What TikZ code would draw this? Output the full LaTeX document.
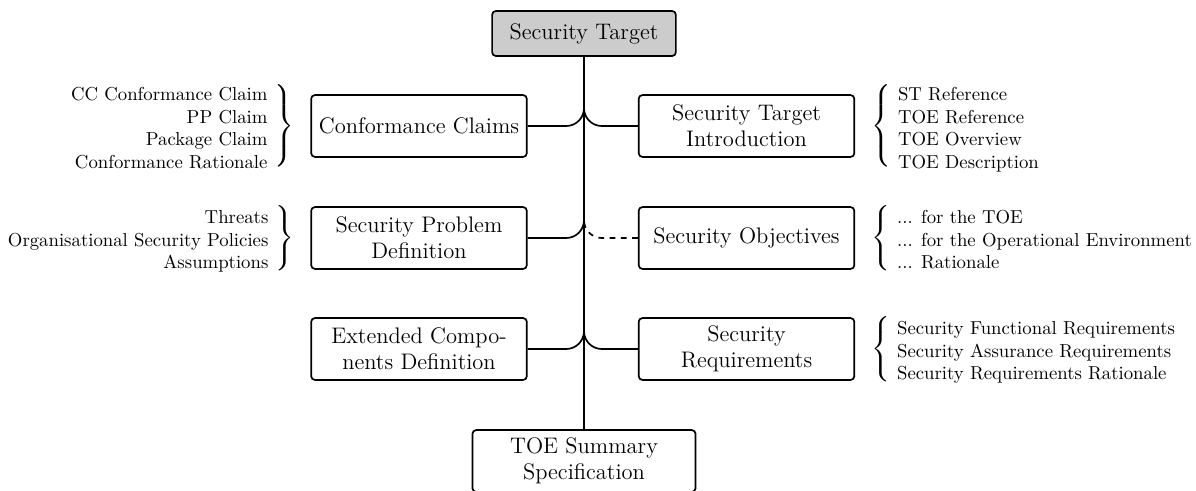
\documentclass[tikz,border=0pt]{standalone}
\usepackage{amsmath}
\usepackage{graphicx}
% A bold extensible brace (#3 = \{ or \}) scaled to #1 wide and #2 tall
\newcommand{\bigbrace}[3]{\resizebox*{#1}{#2}{\Large\nulldelimiterspace=0pt
  $\left#3\vrule height 22pt depth 22pt width 0pt\right.$}}
\begin{document}
\begin{tikzpicture}[
  x=0.5333pt, y=-0.5333pt,
  line width=0.9pt,
  part/.style={draw, rounded corners=2pt, align=center, font=\large,
    minimum width=115pt, minimum height=33pt, inner sep=3pt},
  top/.style={part, fill=gray!40, minimum width=98pt, minimum height=24pt},
  brc/.style={inner sep=0pt},
  lst/.style={inner sep=0pt},
  fork/.style={rounded corners=9.5pt},
]
\useasboundingbox (0,0) rectangle (1196,490);

% Document parts
\node[top]  (st)  at (584,33.5) {Security Target};
\node[part] (cc)  at (419,126)  {Conformance Claims};
\node[part] (sti) at (746.5,126) {Security Target\\Introduction};
\node[part] (spd) at (419,238)  {Security Problem\\Definition};
\node[part] (so)  at (746.5,238) {Security Objectives};
\node[part] (ecd) at (419,349)  {Extended Compo-\\nents Definition};
\node[part] (sr)  at (746.5,349) {Security\\Requirements};
\node[part, minimum width=119pt] (tss) at (584,461) {TOE Summary\\Specification};

% Braces next to the parts
\node[brc, anchor=east] (ccb)  at ([xshift=-8pt]cc.west)  {\bigbrace{10.5pt}{44pt}{\}}};
\node[brc, anchor=west] (stib) at ([xshift=8pt]sti.east)  {\bigbrace{10.5pt}{44pt}{\{}};
\node[brc, anchor=east] (spdb) at ([xshift=-8pt]spd.west) {\bigbrace{10pt}{35pt}{\}}};
\node[brc, anchor=west] (sob)  at ([xshift=8pt]so.east)   {\bigbrace{10pt}{35pt}{\{}};
\node[brc, anchor=west] (srb)  at ([xshift=8pt]sr.east)   {\bigbrace{10pt}{35pt}{\{}};

% Contents of each part
\node[lst, anchor=east] (ccl) at ([xshift=-3pt,yshift=-2pt]ccb.west)
  {\begin{tabular}{@{}r@{}}CC Conformance Claim\\ PP Claim\\ Package Claim\\ Conformance Rationale\end{tabular}};
\node[lst, anchor=west] (stil) at ([xshift=3pt,yshift=-2pt]stib.east)
  {\begin{tabular}{@{}l@{}}ST Reference\\ TOE Reference\\ TOE Overview\\ TOE Description\end{tabular}};
\node[lst, anchor=east] (spdl) at ([xshift=-3pt,yshift=-2pt]spdb.west)
  {\begin{tabular}{@{}r@{}}Threats\\ Organisational Security Policies\\ Assumptions\end{tabular}};
\node[lst, anchor=west] (sol) at ([xshift=3pt,yshift=-2pt]sob.east)
  {\begin{tabular}{@{}l@{}}... for the TOE\\ ... for the Operational Environment\\ ... Rationale\end{tabular}};
\node[lst, anchor=west] (srl) at ([xshift=3pt,yshift=-2pt]srb.east)
  {\begin{tabular}{@{}l@{}}Security Functional Requirements\\ Security Assurance Requirements\\ Security Requirements Rationale\end{tabular}};

% Trunk and branches
\draw (st.south) -- (tss.north);
\draw[fork] (cc.east)  -| (st.south);
\draw[fork] (sti.west) -| (st.south);
\draw[fork] (spd.east) -| (st.south);
\draw[fork] (ecd.east) -| (st.south);
\draw[fork] (sr.west)  -| (st.south);
\draw[fork, dashed] (so.west) -| (st.south);
\end{tikzpicture}
\end{document}
